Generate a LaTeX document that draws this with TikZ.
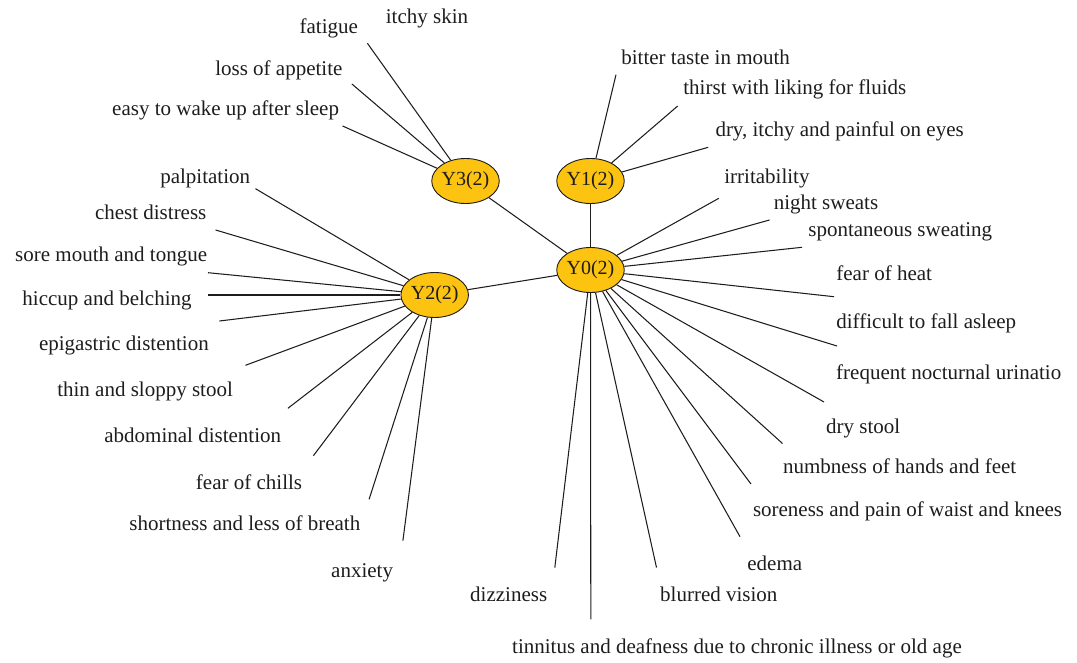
\documentclass[tikz,border=0pt]{standalone}
\usepackage{fontspec}
\setmainfont{Liberation Serif}
\usetikzlibrary{shapes.geometric}
\definecolor{hub}{RGB}{252,195,16}
\definecolor{ink}{RGB}{30,28,28}
\begin{document}
\begin{tikzpicture}[x=1pt,y=-1pt,
  hubnode/.style={ellipse, draw=ink, line width=0.9pt, fill=hub, minimum width=63pt, minimum height=45pt, inner sep=0pt, font=\fontsize{20}{24}\selectfont, text=ink},
  lbl/.style={inner sep=0pt, text height=0.7em, text depth=0.22em, yshift=-4.5pt, font=\fontsize{21}{25}\selectfont, text=ink},
  lblw/.style={lbl, anchor=west},
  lble/.style={lbl, anchor=east},
  link/.style={draw=ink, line width=1.05pt}]
\useasboundingbox (0,0) rectangle (1077,663);

% hubs
\node[hubnode] (Y3) at (465.5,181) {Y3(2)};
\node[hubnode] (Y1) at (590.5,181) {Y1(2)};
\node[hubnode] (Y2) at (434.7,295) {Y2(2)};
\node[hubnode] (Y0) at (590.5,270) {Y0(2)};

% free ends of connectors
\coordinate (eFat) at (367.4,43.3);
\coordinate (eLoss) at (351.9,84);
\coordinate (eEasy) at (342.6,126);
\coordinate (ePalp) at (255.5,188.7);
\coordinate (eChest) at (215.6,230);
\coordinate (eSore) at (208,272.7);
\coordinate (eHicc) at (208,295);
\coordinate (eEpig) at (219.4,321);
\coordinate (eThin) at (245.5,365.3);
\coordinate (eAbd) at (287.9,408.3);
\coordinate (eChill) at (313.4,455.7);
\coordinate (eShort) at (369.1,499.3);
\coordinate (eAnx) at (402.9,540.7);
\coordinate (eBitter) at (616,74.7);
\coordinate (eThirst) at (677.7,106);
\coordinate (eEyes) at (708.2,147.3);
\coordinate (eIrr) at (718.8,198.3);
\coordinate (eNight) at (769.5,220);
\coordinate (eSpont) at (802,247.3);
\coordinate (eHeat) at (834,296.7);
\coordinate (eDiff) at (837,346);
\coordinate (eFreq) at (824,402);
\coordinate (eDry) at (782.5,443.5);
\coordinate (eNumb) at (751,484);
\coordinate (eWaist) at (740,536.7);
\coordinate (eEdema) at (656.5,567.5);
\coordinate (eTinn) at (590.8,619.3);
\coordinate (eDizz) at (554.8,567.7);

% connectors
\draw[link] (Y3) -- (Y0);
\draw[link] (Y2) -- (Y0);
\draw[link] (Y1) -- (Y0);
\foreach \e in {eFat,eLoss,eEasy} \draw[link] (Y3) -- (\e);
\foreach \e in {ePalp,eChest,eSore,eHicc,eEpig,eThin,eAbd,eChill,eShort,eAnx} \draw[link] (Y2) -- (\e);
\foreach \e in {eBitter,eThirst,eEyes} \draw[link] (Y1) -- (\e);
\foreach \e in {eIrr,eNight,eSpont,eHeat,eDiff,eFreq,eDry,eNumb,eWaist,eEdema,eTinn,eDizz} \draw[link] (Y0) -- (\e);

% labels, left side
\node[lblw] (tItchy) at (385.7,16.7) {itchy skin};
\node[lble] (tFat) at (358.1,26.7) {fatigue};
\node[lble] (tLoss) at (342.6,68.3) {loss of appetite};
\node[lble] (tEasy) at (339.2,108.3) {easy to wake up after sleep};
\node[lble] (tPalp) at (250.3,176.7) {palpitation};
\node[lble] (tChest) at (206.6,212.3) {chest distress};
\node[lble] (tSore) at (207.3,255) {sore mouth and tongue};
\node[lble] (tHicc) at (191.8,298.3) {hiccup and belching};
\node[lble] (tEpig) at (209,343.3) {epigastric distention};
\node[lble] (tThin) at (233.1,390) {thin and sloppy stool};
\node[lble] (tAbd) at (281.3,435.7) {abdominal distention};
\node[lble] (tChill) at (302.3,482.3) {fear of chills};
\node[lble] (tShort) at (360.5,523.3) {shortness and less of breath};
\node[lble] (tAnx) at (393.2,570.7) {anxiety};

% labels, right side
\node[lblw] (tBitter) at (621.2,57.3) {bitter taste in mouth};
\node[lblw] (tThirst) at (683.2,87.3) {thirst with liking for fluids};
\node[lblw] (tEyes) at (715.3,129.3) {dry, itchy and painful on eyes};
\node[lblw] (tIrr) at (724.2,176.7) {irritability};
\node[lblw] (tNight) at (773.6,202.7) {night sweats};
\node[lblw] (tSpont) at (808.2,229.3) {spontaneous sweating};
\node[lblw] (tHeat) at (836.2,273.3) {fear of heat};
\node[lblw] (tDiff) at (836.2,321.7) {difficult to fall asleep};
\node[lblw] (tFreq) at (836,372.7) {frequent nocturnal urinatio};
\node[lblw] (tDry) at (826,426.7) {dry stool};
\node[lblw] (tNumb) at (782.8,466.7) {numbness of hands and feet};
\node[lblw] (tWaist) at (752.8,510) {soreness and pain of waist and knees};
\node[lblw] (tEdema) at (747.2,563.3) {edema};
\node[lblw] (tBlur) at (660,595) {blurred vision};
\node[lblw] (tDizz) at (470,595) {dizziness};
\node[lblw] (tTinn) at (512,646.7) {tinnitus and deafness due to chronic illness or old age};
\end{tikzpicture}
\end{document}
